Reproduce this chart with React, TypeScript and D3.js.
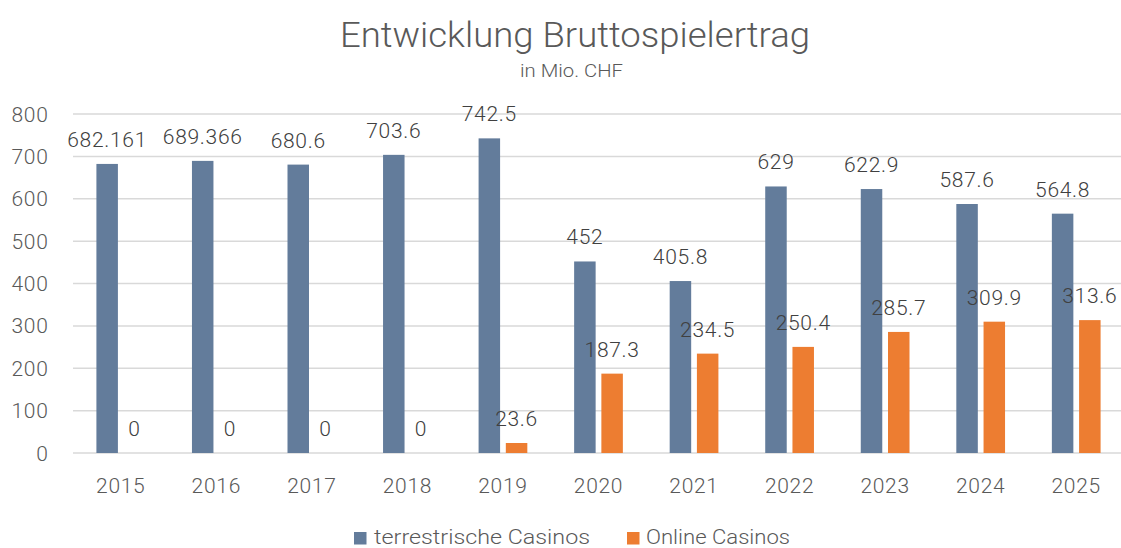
import React from "react";
import * as d3 from "d3";

const years = ["2015","2016","2017","2018","2019","2020","2021","2022","2023","2024","2025"];
const terrestrisch = [682.161, 689.366, 680.6, 703.6, 742.5, 452, 405.8, 629, 622.9, 587.6, 564.8];
const terrestrischLabels = ["682.161","689.366","680.6","703.6","742.5","452","405.8","629","622.9","587.6","564.8"];
const online = [0, 0, 0, 0, 23.6, 187.3, 234.5, 250.4, 285.7, 309.9, 313.6];
const onlineLabels = ["0","0","0","0","23.6","187.3","234.5","250.4","285.7","309.9","313.6"];
const yTicks = [0, 100, 200, 300, 400, 500, 600, 700, 800];
const seriesNames = ["terrestrische Casinos", "Online Casinos"];
const colors = ["#637C9B", "#ED7D31"];

const W = 1121, H = 548;
const FONT = "Roboto, 'Liberation Sans', sans-serif";
const TXT = "#595959";
const LBL = "#404040";
const FS = 21;
const LS = 0.7;

export default function App() {
  const x = d3.scaleBand().domain(years).range([73, 1124]).paddingInner(0).paddingOuter(0);
  const y = d3.scaleLinear().domain([0, 800]).range([453, 114]);
  const bw = x.bandwidth();
  const barW = bw * 0.225;
  const gap = bw * 0.06;
  const series = [terrestrisch, online];
  const labels = [terrestrischLabels, onlineLabels];
  return (
    <svg width={W} height={H} style={{ position: "absolute", left: 0, top: 0, background: "#fff" }} fontFamily={FONT}>
      <rect width={W} height={H} fill="#fff" />
      <text x={575} y={47} textAnchor="middle" fontSize={35} fontWeight={300} fill={TXT} textLength={470} lengthAdjust="spacingAndGlyphs">Entwicklung Bruttospielertrag</text>
      <text x={571.5} y={77} textAnchor="middle" fontSize={18} fontWeight={300} fill={TXT} textLength={103} lengthAdjust="spacingAndGlyphs">in Mio. CHF</text>
      {yTicks.map(t => (
        <g key={t}>
          <line x1={73} x2={1121} y1={y(t)} y2={y(t)} stroke="#d9d9d9" strokeWidth={1.5} />
          <text x={48.5} y={y(t) + 7.5} textAnchor="end" fontSize={FS} letterSpacing={LS} fontWeight={300} fill={TXT}>{t}</text>
        </g>
      ))}
      {years.map((yr, i) => {
        const c = (x(yr) as number) + bw / 2;
        return (
          <g key={yr}>
            {series.map((s, k) => {
              const bx = k === 0 ? c - gap / 2 - barW : c + gap / 2;
              const v = s[i];
              return (
                <g key={k}>
                  <rect x={bx} y={y(v)} width={barW} height={y(0) - y(v)} fill={colors[k]} />
                  <text x={bx + barW / 2} y={y(v) - 17} textAnchor="middle" fontSize={FS} letterSpacing={LS} fontWeight={300} fill={LBL}>{labels[k][i]}</text>
                </g>
              );
            })}
            <text x={c} y={493} textAnchor="middle" fontSize={FS} letterSpacing={LS} fontWeight={300} fill={TXT}>{yr}</text>
          </g>
        );
      })}
      <g>
        <rect x={354} y={532} width={12.5} height={12.5} fill={colors[0]} />
        <text x={374} y={544} fontSize={20} fontWeight={300} fill={TXT} textLength={216} lengthAdjust="spacingAndGlyphs">{seriesNames[0]}</text>
        <rect x={627} y={532} width={12.5} height={12.5} fill={colors[1]} />
        <text x={646} y={544} fontSize={20} fontWeight={300} fill={TXT} textLength={144} lengthAdjust="spacingAndGlyphs">{seriesNames[1]}</text>
      </g>
    </svg>
  );
}
